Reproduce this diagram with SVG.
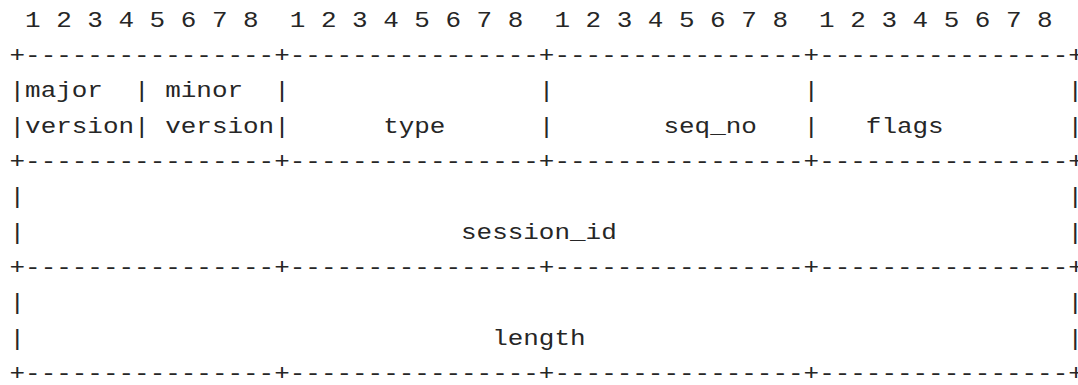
<svg xmlns="http://www.w3.org/2000/svg" width="1078" height="385" viewBox="0 0 1078 385">
<style>
text{font-family:"Liberation Mono","DejaVu Sans Mono",monospace;font-size:21.6px;fill:#262626;}
</style>
<rect width="1078" height="385" fill="#ffffff"/>
<g id="ruler">
<text x="25.07" y="26.7" textLength="233.55" lengthAdjust="spacingAndGlyphs">1 2 3 4 5 6 7 8</text>
<text x="289.76" y="26.7" textLength="233.55" lengthAdjust="spacingAndGlyphs">1 2 3 4 5 6 7 8</text>
<text x="554.45" y="26.7" textLength="233.55" lengthAdjust="spacingAndGlyphs">1 2 3 4 5 6 7 8</text>
<text x="819.14" y="26.7" textLength="233.55" lengthAdjust="spacingAndGlyphs">1 2 3 4 5 6 7 8</text>
</g>
<g id="connectors">
<text x="9.5" y="62.0" textLength="1074.33" lengthAdjust="spacingAndGlyphs">+----------------+----------------+----------------+----------------+</text>
<text x="9.5" y="168.0" textLength="1074.33" lengthAdjust="spacingAndGlyphs">+----------------+----------------+----------------+----------------+</text>
<text x="9.5" y="274.0" textLength="1074.33" lengthAdjust="spacingAndGlyphs">+----------------+----------------+----------------+----------------+</text>
<text x="9.5" y="380.0" textLength="1074.33" lengthAdjust="spacingAndGlyphs">+----------------+----------------+----------------+----------------+</text>
<g id="bars-row2">
<text x="9.5" y="97.4" textLength="15.57" lengthAdjust="spacingAndGlyphs">|</text>
<text x="134.06" y="97.4" textLength="15.57" lengthAdjust="spacingAndGlyphs">|</text>
<text x="274.19" y="97.4" textLength="15.57" lengthAdjust="spacingAndGlyphs">|</text>
<text x="538.88" y="97.4" textLength="15.57" lengthAdjust="spacingAndGlyphs">|</text>
<text x="803.57" y="97.4" textLength="15.57" lengthAdjust="spacingAndGlyphs">|</text>
<text x="1067.5" y="97.4" textLength="15.57" lengthAdjust="spacingAndGlyphs">|</text>
</g>
<g id="bars-row3">
<text x="9.5" y="132.7" textLength="15.57" lengthAdjust="spacingAndGlyphs">|</text>
<text x="134.06" y="132.7" textLength="15.57" lengthAdjust="spacingAndGlyphs">|</text>
<text x="274.19" y="132.7" textLength="15.57" lengthAdjust="spacingAndGlyphs">|</text>
<text x="538.88" y="132.7" textLength="15.57" lengthAdjust="spacingAndGlyphs">|</text>
<text x="803.57" y="132.7" textLength="15.57" lengthAdjust="spacingAndGlyphs">|</text>
<text x="1067.5" y="132.7" textLength="15.57" lengthAdjust="spacingAndGlyphs">|</text>
</g>
<g id="bars-rows5-9">
<text x="9.5" y="203.4" textLength="15.57" lengthAdjust="spacingAndGlyphs">|</text>
<text x="1067.5" y="203.4" textLength="15.57" lengthAdjust="spacingAndGlyphs">|</text>
<text x="9.5" y="238.7" textLength="15.57" lengthAdjust="spacingAndGlyphs">|</text>
<text x="1067.5" y="238.7" textLength="15.57" lengthAdjust="spacingAndGlyphs">|</text>
<text x="9.5" y="309.3" textLength="15.57" lengthAdjust="spacingAndGlyphs">|</text>
<text x="1067.5" y="309.3" textLength="15.57" lengthAdjust="spacingAndGlyphs">|</text>
<text x="9.5" y="344.7" textLength="15.57" lengthAdjust="spacingAndGlyphs">|</text>
<text x="1067.5" y="344.7" textLength="15.57" lengthAdjust="spacingAndGlyphs">|</text>
</g>
</g>
<g id="major-version">
<text x="25.07" y="97.4" textLength="77.85" lengthAdjust="spacingAndGlyphs">major</text>
<text x="25.07" y="132.7" textLength="108.99" lengthAdjust="spacingAndGlyphs">version</text>
</g>
<g id="minor-version">
<text x="165.2" y="97.4" textLength="77.85" lengthAdjust="spacingAndGlyphs">minor</text>
<text x="165.2" y="132.7" textLength="108.99" lengthAdjust="spacingAndGlyphs">version</text>
</g>
<g id="type">
<text x="383.18" y="132.7" textLength="62.28" lengthAdjust="spacingAndGlyphs">type</text>
</g>
<g id="seq-no">
<text x="663.44" y="132.7" textLength="93.42" lengthAdjust="spacingAndGlyphs">seq_no</text>
</g>
<g id="flags">
<text x="865.85" y="132.7" textLength="77.85" lengthAdjust="spacingAndGlyphs">flags</text>
</g>
<g id="session-id">
<text x="461.03" y="238.7" textLength="155.7" lengthAdjust="spacingAndGlyphs">session_id</text>
</g>
<g id="length">
<text x="492.17" y="344.7" textLength="93.42" lengthAdjust="spacingAndGlyphs">length</text>
</g>
</svg>
